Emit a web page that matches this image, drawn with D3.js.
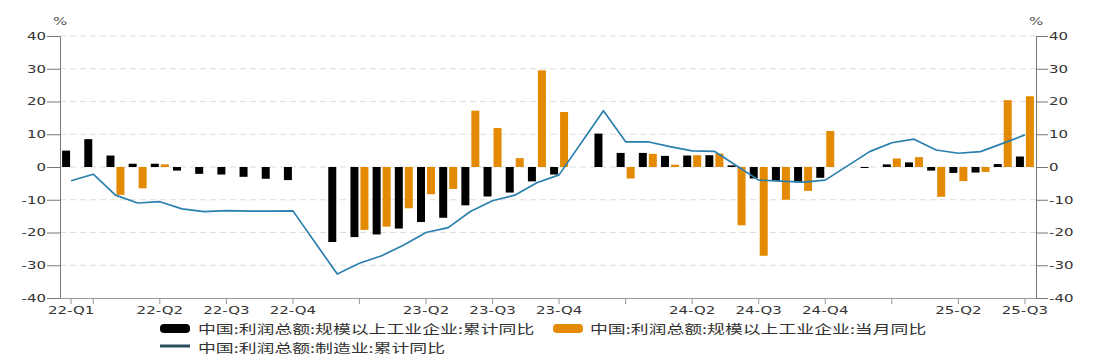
<!DOCTYPE html>
<html><head><meta charset="utf-8">
<script src="https://cdn.jsdelivr.net/npm/d3@7"></script>
<style>body{margin:0;background:#fff;} svg{display:block}</style>
</head><body><svg id="c" width="1096" height="359"></svg>
<script>
const months = [
 "2022-02","2022-03","2022-04","2022-05","2022-06","2022-07","2022-08","2022-09","2022-10","2022-11","2022-12",
 "2023-01","2023-02","2023-03","2023-04","2023-05","2023-06","2023-07","2023-08","2023-09","2023-10","2023-11","2023-12",
 "2024-01","2024-02","2024-03","2024-04","2024-05","2024-06","2024-07","2024-08","2024-09","2024-10","2024-11","2024-12",
 "2025-01","2025-02","2025-03","2025-04","2025-05","2025-06","2025-07","2025-08","2025-09"];
const cumTotal = [
 5.0, 8.5, 3.5, 1.0, 1.0, -1.1, -2.1, -2.3, -3.0, -3.6, -4.0,
 null, -22.9, -21.4, -20.6, -18.8, -16.8, -15.5, -11.7, -9.0, -7.8, -4.4, -2.3,
 null, 10.2, 4.3, 4.3, 3.4, 3.5, 3.6, 0.5, -3.5, -4.3, -4.7, -3.3,
 null, -0.3, 0.8, 1.4, -1.1, -1.8, -1.7, 0.9, 3.2];
const monTotal = [
 null, null, -8.5, -6.5, 0.8, null, null, null, null, null, null,
 null, null, -19.2, -18.2, -12.6, -8.3, -6.7, 17.2, 11.9, 2.7, 29.5, 16.8,
 null, null, -3.5, 4.0, 0.7, 3.6, 4.1, -17.8, -27.1, -10.0, -7.3, 11.0,
 null, null, 2.6, 3.0, -9.1, -4.3, -1.5, 20.4, 21.6];
const cumMfg = [
 -4.2, -2.2, -8.6, -11.0, -10.6, -12.8, -13.6, -13.3, -13.5, -13.5, -13.4,
 null, -32.7, -29.4, -27.1, -23.8, -20.0, -18.5, -13.6, -10.3, -8.6, -4.8, -2.4,
 null, 17.2, 7.7, 7.7, 6.2, 4.9, 4.8, 0.4, -4.0, -4.3, -4.6, -4.0,
 null, 4.7, 7.4, 8.5, 5.2, 4.2, 4.7, 7.2, 9.8];
const yTicks = [-40,-30,-20,-10,0,10,20,30,40];
const xTickMonths = ["2022-02","2022-03","2022-06","2022-09","2022-12","2023-03","2023-06","2023-09","2023-12","2024-03","2024-06","2024-09","2024-12","2025-03","2025-06","2025-09"];
const xTickLabels = ["22-Q1","","22-Q2","22-Q3","22-Q4","","23-Q2","23-Q3","23-Q4","","24-Q2","24-Q3","24-Q4","","25-Q2","25-Q3"];
const seriesNames = ["中国:利润总额:规模以上工业企业:累计同比","中国:利润总额:规模以上工业企业:当月同比","中国:利润总额:制造业:累计同比"];
const colors = ["#000000","#e38a00","#2a7fae"];
const unitLabel = "%";

const L = 60, R = 1036, T = 36, B = 298, SX = 1.43;
const NUMF = "'DejaVu Sans', sans-serif";
const CJKF = "'Noto Sans CJK SC', sans-serif";
const svg = d3.select("#c");

const x = d3.scaleBand().domain(months).range([L, R]).padding(0);
const bw = x.bandwidth();
const x1 = d3.scaleBand().domain([0, 1]).range([0, bw]).paddingInner(0.2).paddingOuter(0.21);
const y = d3.scaleLinear().domain([-40, 40]).range([B, T]);

// grid
svg.append("g").selectAll("line").data(yTicks.filter(d => d > -40)).join("line")
  .attr("x1", L).attr("x2", R).attr("y1", d => y(d)).attr("y2", d => y(d))
  .attr("stroke", "#dcdcdc").attr("stroke-width", 1).attr("stroke-dasharray", "6,4");

// bars
const barSeries = [cumTotal, monTotal];
barSeries.forEach((vals, si) => {
  const data = months.map((m, i) => ({m, v: vals[i]})).filter(d => d.v != null);
  svg.append("g").selectAll("rect").data(data).join("rect")
    .attr("x", d => x(d.m) + x1(si))
    .attr("width", x1.bandwidth())
    .attr("y", d => y(Math.max(0, d.v)))
    .attr("height", d => Math.max(1, Math.abs(y(d.v) - y(0))))
    .attr("fill", colors[si]);
});

// line
const lineData = months.map((m, i) => ({m, v: cumMfg[i]})).filter(d => d.v != null);
svg.append("path").datum(lineData)
  .attr("fill", "none").attr("stroke", colors[2]).attr("stroke-width", 1.7)
  .attr("stroke-linejoin", "round")
  .attr("d", d3.line().x(d => x(d.m) + bw / 2).y(d => y(d.v)));

// axes
function styleAxis(g, color) {
  g.select(".domain").attr("stroke", color);
  g.selectAll(".tick line").attr("stroke", color);
  g.selectAll("text").attr("fill", "#333").attr("font-family", NUMF).attr("font-size", 10.5);
}
const gx = svg.append("g").attr("transform", `translate(0,${B})`)
  .call(d3.axisBottom(x).tickValues(xTickMonths).tickSize(6).tickSizeOuter(0)
    .tickFormat((d, i) => xTickLabels[i]));
styleAxis(gx, "#9a9a9a");
gx.selectAll("text").attr("x", 0).attr("transform", `scale(${SX},1)`);

const gl = svg.append("g").attr("transform", `translate(${L},0)`)
  .call(d3.axisLeft(y).tickValues(yTicks).tickSize(13).tickSizeOuter(0).tickFormat(d => String(d)));
styleAxis(gl, "#777");
gl.selectAll("text").attr("x", 0).attr("transform", `translate(-14,0) scale(${SX},1)`);

const gr = svg.append("g").attr("transform", `translate(${R},0)`)
  .call(d3.axisRight(y).tickValues(yTicks).tickSize(12).tickSizeOuter(0).tickFormat(d => String(d)));
styleAxis(gr, "#777");
gr.selectAll("text").attr("x", 0).attr("transform", `translate(13,0) scale(${SX},1)`);

// unit labels
[L, R].forEach(px => {
  svg.append("text").attr("transform", `translate(${px},25) scale(${SX},1)`)
    .attr("text-anchor", "middle").attr("font-family", NUMF).attr("font-size", 10.5)
    .attr("fill", "#555").text(unitLabel);
});

// legend
const leg = svg.append("g");
function legText(px, py, t) {
  leg.append("text").attr("transform", `translate(${px},${py}) scale(${SX},1)`)
    .attr("dominant-baseline", "central").attr("font-family", CJKF).attr("font-size", 12.5)
    .attr("fill", "#333").text(t);
}
leg.append("rect").attr("x", 160).attr("y", 324).attr("width", 30).attr("height", 9).attr("rx", 4).attr("fill", colors[0]);
legText(198, 328.5, seriesNames[0]);
leg.append("rect").attr("x", 553).attr("y", 324).attr("width", 30).attr("height", 9).attr("rx", 4).attr("fill", colors[1]);
legText(590, 328.5, seriesNames[1]);
leg.append("line").attr("x1", 160).attr("x2", 190).attr("y1", 346).attr("y2", 346)
  .attr("stroke", "#2b4c5c").attr("stroke-width", 3);
legText(198, 347, seriesNames[2]);
</script></body></html>
